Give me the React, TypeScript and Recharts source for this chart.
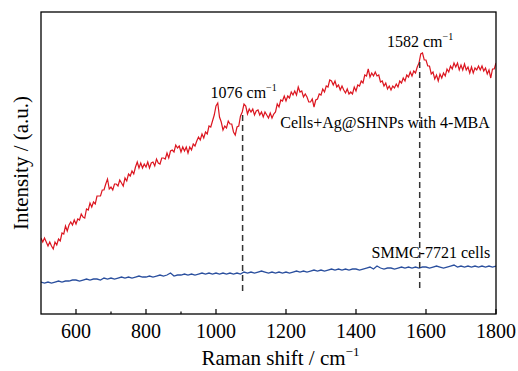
import { LineChart, Line, XAxis, YAxis, ReferenceLine, ReferenceDot } from 'recharts';

// Raman shift grid (cm-1)
const SHIFT_START = 500;
const SHIFT_END = 1800;
const PROBE_STEP = 5;
const CELL_STEP = 10;
const Y_MAX = 302;

const xTicks = [600, 700, 800, 900, 1000, 1100, 1200, 1300, 1400, 1500, 1600, 1700, 1800];

// Cells + Ag@SHNPs with 4-MBA, 500..1800 every 5 cm-1 (arbitrary units)
const probeIntensity = [
  76, 72, 76, 72, 68, 72, 68, 65, 72, 69, 75, 73, 81, 80, 88, 83, 89, 92, 89, 94,
  90, 95, 94, 100, 97, 96, 105, 104, 111, 107, 112, 110, 118, 118, 118, 124, 124, 130, 135, 125,
  127, 124, 130, 130, 128, 134, 131, 128, 136, 133, 140, 138, 143, 140, 147, 152, 146, 151, 146, 150,
  147, 152, 146, 151, 152, 148, 155, 151, 150, 156, 156, 155, 161, 156, 163, 164, 162, 169, 166, 168,
  162, 167, 163, 167, 161, 167, 164, 170, 168, 173, 177, 174, 180, 176, 182, 180, 188, 187, 193, 199,
  208, 211, 197, 192, 184, 188, 186, 193, 190, 190, 182, 179, 187, 188, 198, 202, 210, 208, 200, 205,
  202, 205, 199, 203, 204, 199, 202, 197, 202, 199, 196, 201, 196, 200, 202, 210, 207, 214, 213, 218,
  213, 218, 216, 222, 219, 223, 219, 227, 222, 223, 217, 220, 217, 212, 212, 215, 207, 214, 215, 220,
  219, 225, 222, 228, 227, 234, 233, 229, 233, 227, 229, 224, 228, 224, 221, 225, 220, 222, 220, 227,
  223, 229, 228, 233, 231, 239, 238, 245, 237, 241, 238, 242, 238, 239, 232, 233, 228, 231, 225, 228,
  224, 228, 226, 230, 227, 233, 231, 236, 233, 239, 237, 242, 238, 243, 241, 247, 251, 260, 261, 254,
  254, 248, 248, 240, 242, 235, 239, 233, 240, 236, 241, 238, 245, 242, 248, 245, 251, 247, 251, 244,
  249, 244, 250, 244, 247, 241, 247, 241, 246, 244, 248, 244, 248, 243, 246, 240, 244, 236, 245, 245, 251,
];

// SMMC-7721 cells, 500..1800 every 10 cm-1
const cellIntensity = [
  32, 31, 32, 31, 32, 33, 32, 33, 33, 34,
  34, 33, 34, 35, 34, 35, 35, 34, 36, 35,
  36, 35, 36, 37, 36, 37, 36, 37, 38, 37,
  37, 38, 37, 38, 39, 38, 39, 41, 38, 39,
  39, 40, 39, 40, 39, 40, 41, 40, 41, 40,
  41, 40, 41, 40, 41, 40, 41, 40, 42, 41,
  42, 41, 42, 43, 42, 41, 42, 41, 42, 41,
  42, 41, 42, 43, 42, 43, 42, 43, 44, 43,
  44, 43, 44, 45, 44, 45, 44, 45, 44, 45,
  45, 44, 45, 46, 47, 45, 48, 46, 45, 46,
  46, 45, 46, 47, 46, 47, 46, 47, 46, 47,
  47, 46, 47, 48, 47, 46, 47, 48, 49, 47,
  48, 47, 48, 47, 48, 47, 48, 47, 48, 47, 48,
];

const peakShifts = [1076, 1582];
const peakTops = [199, 252];
const peakBottoms = [19, 24];

const probeData = probeIntensity.map((v, i) => ({ shift: SHIFT_START + i * PROBE_STEP, value: v }));
const cellData = cellIntensity.map((v, i) => ({ shift: SHIFT_START + i * CELL_STEP, value: v }));

const FONT = '"Liberation Serif", "Times New Roman", serif';

// layout
const W = 518;
const H = 371;
const M_TOP = 12;
const M_RIGHT = 22;
const Y_AXIS_W = 41;
const X_AXIS_H = 57;

const XTick = (props: any) => {
  const { x, y, payload } = props;
  const major = payload.value % 200 === 0;
  return (
    <g>
      <line x1={x} x2={x} y1={y} y2={y - (major ? 5 : 2.5)} stroke="#000" strokeWidth={1.2} />
      {major && (
        <text x={x} y={y + 24} textAnchor="middle" fontSize={20} fontFamily={FONT} fill="#000">
          {payload.value}
        </text>
      )}
    </g>
  );
};

const annotation = (label: string, sup?: boolean) => (props: any) => (
  <text x={props.cx} y={props.cy} textAnchor="middle" fontSize={16} fontFamily={FONT} fill="#000">
    {label}
    {sup && (
      <tspan fontSize={10} dy={-7}>
        −1
      </tspan>
    )}
  </text>
);

export default function App() {
  return (
    <div style={{ position: 'absolute', left: 0, top: 0, width: W, height: H, background: '#fff' }}>
      <LineChart width={W} height={H} margin={{ top: M_TOP, right: M_RIGHT, left: 0, bottom: 0 }}>
        <XAxis
          dataKey="shift"
          type="number"
          domain={[SHIFT_START, SHIFT_END]}
          allowDataOverflow
          ticks={xTicks}
          tick={<XTick />}
          tickLine={false}
          axisLine={false}
          tickSize={0}
          tickMargin={0}
          height={X_AXIS_H}
          allowDuplicatedCategory={false}
          label={{
            content: (p: any) => {
              const vb = p.viewBox;
              return (
                <text
                  x={vb.x + vb.width / 2 + 12}
                  y={vb.y + 51}
                  textAnchor="middle"
                  fontSize={21}
                  fontFamily={FONT}
                  fill="#000"
                >
                  Raman shift / cm
                  <tspan fontSize={13} dy={-9}>
                    −1
                  </tspan>
                </text>
              );
            },
          }}
        />
        <YAxis
          type="number"
          domain={[0, Y_MAX]}
          allowDataOverflow
          width={Y_AXIS_W}
          tick={false}
          tickLine={false}
          axisLine={false}
          label={{
            content: (p: any) => {
              const vb = p.viewBox;
              const cx = vb.x + 28;
              const cy = vb.y + vb.height / 2;
              return (
                <text
                  x={cx}
                  y={cy}
                  transform={`rotate(-90 ${cx} ${cy})`}
                  textAnchor="middle"
                  fontSize={21}
                  fontFamily={FONT}
                  fill="#000"
                >
                  Intensity / (a.u.)
                </text>
              );
            },
          }}
        />
        <Line
          data={cellData}
          dataKey="value"
          type="linear"
          stroke="#2a4f9e"
          strokeWidth={1.3}
          dot={false}
          isAnimationActive={false}
        />
        <Line
          data={probeData}
          dataKey="value"
          type="linear"
          stroke="#dc1620"
          strokeWidth={1.2}
          dot={false}
          isAnimationActive={false}
        />
        {peakShifts.map((s, i) => (
          <ReferenceLine
            key={s}
            segment={[
              { x: s, y: peakTops[i] },
              { x: s, y: peakBottoms[i] },
            ]}
            stroke="#333"
            strokeWidth={1.5}
            strokeDasharray="6 4"
          />
        ))}
        <ReferenceDot x={1079} y={216} r={0} shape={annotation('1076 cm', true)} />
        <ReferenceDot x={1583} y={267} r={0} shape={annotation('1582 cm', true)} />
        <ReferenceDot x={1483} y={186} r={0} shape={annotation('Cells+Ag@SHNPs with 4-MBA')} />
        <ReferenceDot x={1614} y={56} r={0} shape={annotation('SMMC-7721 cells')} />
      </LineChart>
      {/* plot frame, same box as the chart's plot area */}
      <svg
        width={W}
        height={H}
        style={{ position: 'absolute', left: 0, top: 0, pointerEvents: 'none' }}
      >
        <rect
          x={Y_AXIS_W}
          y={M_TOP}
          width={W - Y_AXIS_W - M_RIGHT}
          height={H - M_TOP - X_AXIS_H}
          fill="none"
          stroke="#000"
          strokeWidth={1.3}
        />
      </svg>
    </div>
  );
}
